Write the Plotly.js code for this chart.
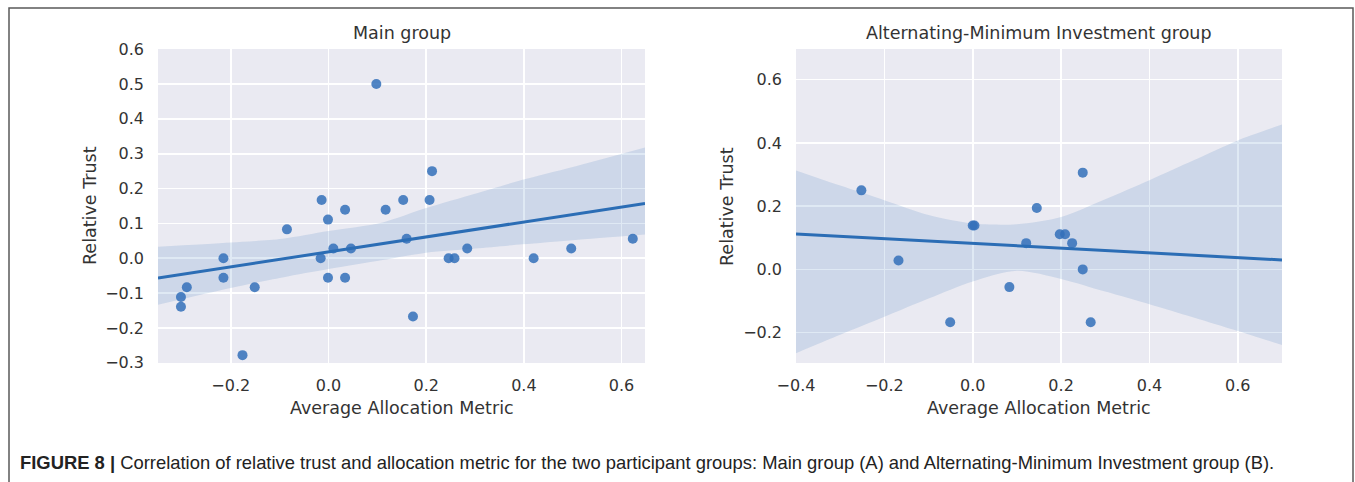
<!DOCTYPE html>
<html><head><meta charset="utf-8">
<script src="https://cdn.plot.ly/plotly-3.0.1.min.js"></script>
<style>html,body{margin:0;padding:0;background:#fff}</style>
</head><body><div id="chart" style="width:1355px;height:482px"></div>
<script>
// ---- Data ----
const mainTitle = "Main group";
const altTitle = "Alternating-Minimum Investment group";
const xLabel = "Average Allocation Metric";
const yLabel = "Relative Trust";
const caption = "<b>FIGURE 8 |</b> Correlation of relative trust and allocation metric for the two participant groups: Main group (A) and Alternating-Minimum Investment group (B).";

const mainX = [0.098, -0.014, 0.034, -0.001, -0.085, 0.117, 0.153, 0.010, 0.046, -0.016,
               -0.215, -0.215, -0.001, 0.034, -0.290, -0.151, -0.302, -0.302, -0.176, 0.160,
               0.212, 0.207, 0.173, 0.246, 0.258, 0.284, 0.420, 0.497, 0.623];
const mainY = [0.500, 0.167, 0.139, 0.111, 0.083, 0.139, 0.167, 0.028, 0.028, 0.000,
               0.000, -0.056, -0.056, -0.056, -0.083, -0.083, -0.111, -0.139, -0.278, 0.056,
               0.250, 0.167, -0.167, 0.000, 0.000, 0.028, 0.000, 0.028, 0.056];

const altX = [-0.252, -0.168, 0.000, 0.004, 0.121, 0.145, 0.083, -0.051, 0.249, 0.197,
              0.209, 0.225, 0.249, 0.267];
const altY = [0.250, 0.028, 0.139, 0.139, 0.083, 0.194, -0.056, -0.167, 0.306, 0.111,
              0.111, 0.083, 0.000, -0.167];

// 95% bootstrap confidence band edges
const mainBandX  = [-0.349, -0.2, -0.094, 0.0, 0.111, 0.2, 0.3, 0.397, 0.5, 0.648];
const mainBandLo = [-0.133, -0.085, -0.055, -0.031, -0.005, 0.016, 0.028, 0.040, 0.052, 0.068];
const mainBandHi = [0.033, 0.045, 0.056, 0.078, 0.103, 0.144, 0.185, 0.225, 0.262, 0.318];

const altBandX  = [-0.4, -0.3, -0.2, -0.1, 0.0, 0.1, 0.2, 0.3, 0.4, 0.5, 0.6, 0.7];
const altBandLo = [-0.265, -0.207, -0.150, -0.092, -0.038, -0.004, -0.030, -0.070, -0.110, -0.152, -0.195, -0.239];
const altBandHi = [0.313, 0.265, 0.219, 0.172, 0.145, 0.143, 0.166, 0.222, 0.282, 0.345, 0.408, 0.458];

const mainXRange = [-0.349, 0.648];
const mainYRange = [-0.3005, 0.6005];
const altXRange = [-0.400, 0.700];
const altYRange = [-0.296, 0.697];

// ---- Least-squares regression line (computed from the data) ----
function regLine(xs, ys, range) {
  const n = xs.length;
  const mx = xs.reduce((a,b)=>a+b,0)/n, my = ys.reduce((a,b)=>a+b,0)/n;
  let sxx = 0, sxy = 0;
  for (let i=0;i<n;i++){ sxx += (xs[i]-mx)**2; sxy += (xs[i]-mx)*(ys[i]-my); }
  const b = sxy/sxx, a = my - b*mx;
  return {x: range.slice(), y: range.map(v => a + b*v)};
}

const lineColor = "#2b6db5";
const pointColor = "rgba(50,112,186,0.85)";
const bandColor = "rgba(43,109,181,0.15)";

function tracesFor(xs, ys, range, bx, blo, bhi, xa, ya) {
  const f = regLine(xs, ys, range);
  return [
    {x: bx, y: blo, xaxis: xa, yaxis: ya, mode: "lines", line: {width: 0, color: bandColor, shape: "spline", smoothing: 0.8}, hoverinfo: "skip", showlegend: false},
    {x: bx, y: bhi, xaxis: xa, yaxis: ya, mode: "lines", line: {width: 0, color: bandColor, shape: "spline", smoothing: 0.8}, fill: "tonexty", fillcolor: bandColor, hoverinfo: "skip", showlegend: false},
    {x: xs, y: ys, xaxis: xa, yaxis: ya, mode: "markers", type: "scatter", marker: {size: 10, color: pointColor, line: {width: 0}}, showlegend: false},
    {x: f.x, y: f.y, xaxis: xa, yaxis: ya, mode: "lines", line: {width: 3, color: lineColor}, showlegend: false}
  ];
}

const data = [].concat(
  tracesFor(mainX, mainY, mainXRange, mainBandX, mainBandLo, mainBandHi, "x", "y"),
  tracesFor(altX, altY, altXRange, altBandX, altBandLo, altBandHi, "x2", "y2")
);

const W = 1355, H = 482;
const px = v => v / W, py = v => 1 - v / H;
const font = "DejaVu Sans, sans-serif";
const tickFont = {family: font, size: 16, color: "#333"};
const labFont = {family: font, size: 17.5, color: "#333"};

function axisBase(domain, range, dtick) {
  return {
    domain: domain, range: range, dtick: dtick, tick0: 0, tickformat: ".1f",
    showgrid: true, gridcolor: "#ffffff", gridwidth: 1.6, zeroline: false, showline: false,
    ticks: "", tickfont: tickFont, fixedrange: true
  };
}

const yDom = [py(363), py(49)];
const layout = {
  width: W, height: H,
  margin: {l: 0, r: 0, t: 0, b: 0},
  paper_bgcolor: "#ffffff",
  plot_bgcolor: "#eaeaf2",
  showlegend: false,
  xaxis: Object.assign(axisBase([px(158), px(645)], mainXRange, 0.2), {anchor: "y", ticklabelstandoff: 11}),
  yaxis: Object.assign(axisBase(yDom, mainYRange, 0.1), {anchor: "x", ticklabelstandoff: 13}),
  xaxis2: Object.assign(axisBase([px(796), px(1282)], altXRange, 0.2), {anchor: "y2", ticklabelstandoff: 11}),
  yaxis2: Object.assign(axisBase(yDom, altYRange, 0.2), {anchor: "x2", ticklabelstandoff: 13}),
  shapes: [
    {type: "rect", xref: "paper", yref: "paper", x0: px(9), x1: px(1353), y0: py(8), y1: py(520),
     line: {color: "#5a5a5a", width: 1.5}, fillcolor: "rgba(0,0,0,0)", layer: "below"}
  ],
  annotations: [
    {text: mainTitle, xref: "paper", yref: "paper", x: px(401.5), y: py(33), xanchor: "center", yanchor: "middle", showarrow: false, font: labFont},
    {text: altTitle, xref: "paper", yref: "paper", x: px(1039), y: py(33), xanchor: "center", yanchor: "middle", showarrow: false, font: labFont},
    {text: xLabel, xref: "paper", yref: "paper", x: px(401.5), y: py(408), xanchor: "center", yanchor: "middle", showarrow: false, font: labFont},
    {text: xLabel, xref: "paper", yref: "paper", x: px(1039), y: py(408), xanchor: "center", yanchor: "middle", showarrow: false, font: labFont},
    {text: yLabel, xref: "paper", yref: "paper", x: px(90), y: py(206), xanchor: "center", yanchor: "middle", textangle: -90, showarrow: false, font: labFont},
    {text: yLabel, xref: "paper", yref: "paper", x: px(727), y: py(206), xanchor: "center", yanchor: "middle", textangle: -90, showarrow: false, font: labFont},
    {text: caption, xref: "paper", yref: "paper", x: px(18), y: py(462), xanchor: "left", yanchor: "middle", showarrow: false, font: {family: "Liberation Sans, Arial, sans-serif", size: 18.4, color: "#222"}}
  ]
};

Plotly.newPlot("chart", data, layout, {staticPlot: true, displayModeBar: false});
</script></body></html>
